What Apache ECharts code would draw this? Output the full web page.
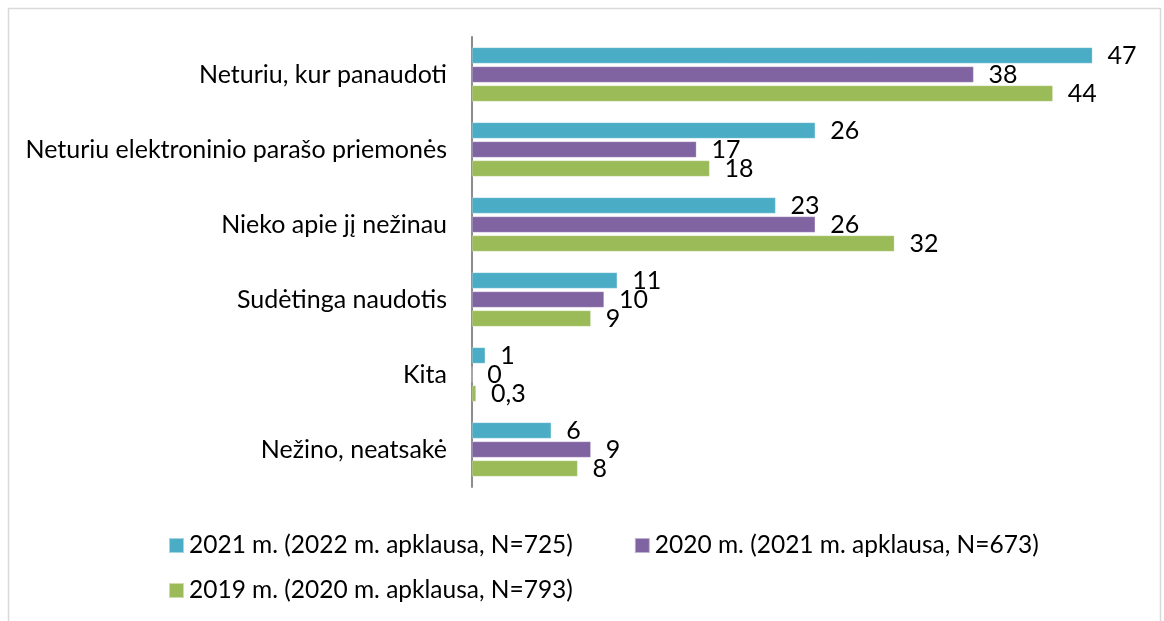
<!DOCTYPE html>
<html><head><meta charset="utf-8">
<script src="https://cdn.jsdelivr.net/npm/echarts@6/dist/echarts.min.js"></script>
<style>html,body{margin:0;padding:0;background:#fff}#c{width:1164px;height:621px}</style>
</head><body><div id="c"></div>
<script>
const categories = ["Neturiu, kur panaudoti","Neturiu elektroninio parašo priemonės","Nieko apie jį nežinau","Sudėtinga naudotis","Kita","Nežino, neatsakė"];
const seriesNames = ["2021 m. (2022 m. apklausa, N=725)","2020 m. (2021 m. apklausa, N=673)","2019 m. (2020 m. apklausa, N=793)"];
const values2021 = [47, 26, 23, 11, 1, 6];
const values2020 = [38, 17, 26, 10, 0, 9];
const values2019 = [44, 18, 32, 9, 0.3, 8];
const colors = ["#4BACC6","#8064A2","#9BBB59"];
const FONT = "Lato";
const FS = 25;
const LFS = 24.5;
const chart = echarts.init(document.getElementById('c'));
const mk = (name, data, color) => ({
  name, type:'bar', data, barWidth:16, barGap:'19%',
  itemStyle:{color, borderColor:'rgba(255,255,255,0.5)', borderWidth:0.5},
  label:{show:true, position:'right', distance:15, color:'#000', fontFamily:FONT, fontSize:FS,
    formatter:p=>String(p.value).replace('.',',')}
});
chart.setOption({
  animation:false,
  textStyle:{fontFamily:FONT},
  graphic:[{type:'rect', shape:{x:8.5,y:8.5,width:1152,height:640}, style:{fill:'none', stroke:'#d9d9d9', lineWidth:1.5}, silent:true}],
  grid:{left:472, right:32, top:37, bottom:134, containLabel:false},
  xAxis:{type:'value', min:0, max:50, show:false},
  yAxis:{type:'category', data:categories, inverse:true,
    axisLine:{show:true, lineStyle:{color:'#8c8c8c', width:2}},
    axisTick:{show:false},
    axisLabel:{color:'#000', fontFamily:FONT, fontSize:FS, margin:25}},
  legend:[
    {data:seriesNames.slice(0,2), left:163, top:528, itemWidth:15, itemHeight:15, itemGap:61, icon:'rect',
      textStyle:{color:'#000', fontFamily:FONT, fontSize:LFS}},
    {data:seriesNames.slice(2), left:163, top:573, itemWidth:15, itemHeight:15, icon:'rect',
      textStyle:{color:'#000', fontFamily:FONT, fontSize:LFS}}
  ],
  series:[mk(seriesNames[0], values2021, colors[0]), mk(seriesNames[1], values2020, colors[1]), mk(seriesNames[2], values2019, colors[2])]
});
</script></body></html>
